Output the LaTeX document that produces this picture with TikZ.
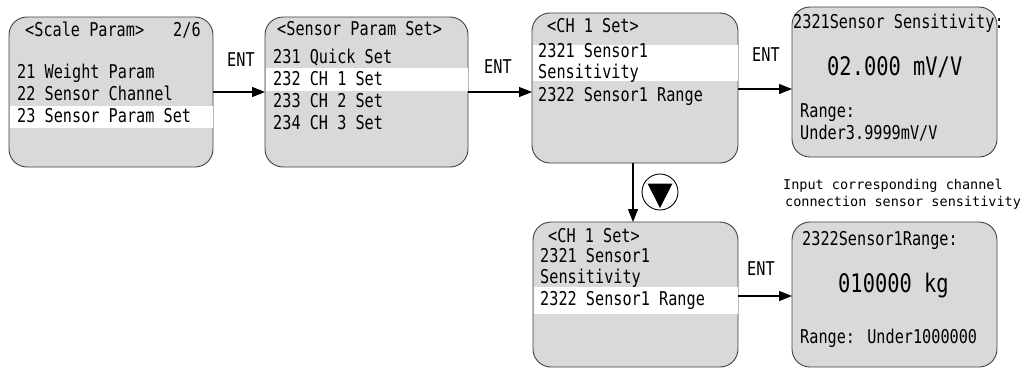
\documentclass[tikz,border=0pt]{standalone}
\usepackage{fontspec}
\usetikzlibrary{arrows.meta}
\newfontfamily\lcdfont[FakeStretch=0.8]{DejaVu Sans Mono}
\newfontfamily\notefont{DejaVu Sans Mono}
\definecolor{boxgray}{HTML}{D9D9D9}
\definecolor{edgegray}{HTML}{404040}
\tikzset{
  screen/.style={draw=edgegray, fill=boxgray, line width=0.9pt, rounded corners=18pt, inner sep=0pt, outer sep=0pt},
  band/.style={fill=white},
  txt/.style={anchor=base west, inner sep=0pt, font=\lcdfont\fontsize{19}{22}\selectfont},
  bigtxt/.style={anchor=base west, inner sep=0pt, font=\lcdfont\fontsize{25.5}{28}\selectfont},
  notetxt/.style={anchor=base west, inner sep=0pt, font=\notefont\fontsize{13.5}{16}\selectfont},
  entlbl/.style={anchor=base west, inner sep=0pt, font=\lcdfont\fontsize{19}{22}\selectfont},
  arr/.style={line width=1.1pt, -{Triangle[length=13pt,width=10pt]}},
}
\begin{document}
\begin{tikzpicture}[x=1pt,y=-1pt]
\useasboundingbox (0,0) rectangle (1025,368);
% boxes
\node[screen, minimum width=204pt, minimum height=150pt] (b1) at (111,92) {};
\node[screen, minimum width=203pt, minimum height=150pt] (b2) at (366.5,92) {};
\node[screen, minimum width=206pt, minimum height=150pt] (b3) at (635,88) {};
\node[screen, minimum width=205pt, minimum height=150pt] (b4) at (894.5,82) {};
\node[screen, minimum width=205pt, minimum height=145pt] (b5) at (635.5,294.5) {};
\node[screen, minimum width=205pt, minimum height=145pt] (b6) at (894.5,294.5) {};
% highlight bands
\fill[band] ([xshift=0.5pt]b1.west |- 0,106) rectangle ([xshift=-0.5pt]b1.east |- 0,128);
\fill[band] ([xshift=0.5pt]b2.west |- 0,68) rectangle ([xshift=-0.5pt]b2.east |- 0,91);
\fill[band] ([xshift=0.5pt]b3.west |- 0,45) rectangle ([xshift=-0.5pt]b3.east |- 0,81);
\fill[band] ([xshift=0.5pt]b5.west |- 0,287) rectangle ([xshift=-0.5pt]b5.east |- 0,314);
% box 1 text
\node[txt] (t1h) at (25,36) {<Scale Param>};
\node[txt] (t1p) at (173,36) {2/6};
\node[txt] (t11) at (17,78) {21 Weight Param};
\node[txt] (t12) at (17,100) {22 Sensor Channel};
\node[txt] (t13) at (17,122) {23 Sensor Param Set};
% box 2 text
\node[txt] (t2h) at (277,35) {<Sensor Param Set>};
\node[txt] (t21) at (273,63) {231 Quick Set};
\node[txt] (t22) at (273,85) {232 CH 1 Set};
\node[txt] (t23) at (273,107) {233 CH 2 Set};
\node[txt] (t24) at (273,129) {234 CH 3 Set};
% box 3 text
\node[txt] (t3h) at (547,32) {<CH 1 Set>};
\node[txt] (t31) at (538,57) {2321 Sensor1};
\node[txt] (t32) at (538,78) {Sensitivity};
\node[txt] (t33) at (538,101) {2322 Sensor1 Range};
% box 4 text
\node[txt] (t4h) at (793,28) {2321Sensor Sensitivity:};
\node[bigtxt] (t4v) at (827,75) {02.000 mV/V};
\node[txt] (t41) at (800,117) {Range:};
\node[txt] (t42) at (800,139) {Under3.9999mV/V};
% note
\node[notetxt] (n1) at (783,189) {Input corresponding channel};
\node[notetxt] (n2) at (785,206) {connection sensor sensitivity};
% box 5 text
\node[txt] (t5h) at (548,242) {<CH 1 Set>};
\node[txt] (t51) at (540,262) {2321 Sensor1};
\node[txt] (t52) at (540,283) {Sensitivity};
\node[txt] (t53) at (540,305) {2322 Sensor1 Range};
% box 6 text
\node[txt] (t6h) at (802,245) {2322Sensor1Range:};
\node[bigtxt] (t6v) at (838,292) {010000 kg};
\node[txt] (t61) at (800,343) {Range: Under1000000};
% connectors
\draw[arr] (b1.east |- 0,92) -- (b2.west |- 0,92);
\node[entlbl] (e1) at (227,66) {ENT};
\draw[arr] (b2.east |- 0,92) -- (b3.west |- 0,92);
\node[entlbl] (e2) at (484,73) {ENT};
\draw[arr] (b3.east |- 0,89) -- (b4.west |- 0,89);
\node[entlbl] (e3) at (752,61) {ENT};
\draw[arr] (b3.south -| 633,0) -- (b5.north -| 633,0);
\draw[arr] (b5.east |- 0,296) -- (b6.west |- 0,296);
\node[entlbl] (e5) at (747,275) {ENT};
% down key symbol
\node[circle, draw=black, line width=0.9pt, minimum size=36pt, inner sep=0pt] (dn) at (660,192) {};
\fill[black] (647.5,183.5) -- (672.5,183.5) -- (660,208) -- cycle;
\end{tikzpicture}
\end{document}
